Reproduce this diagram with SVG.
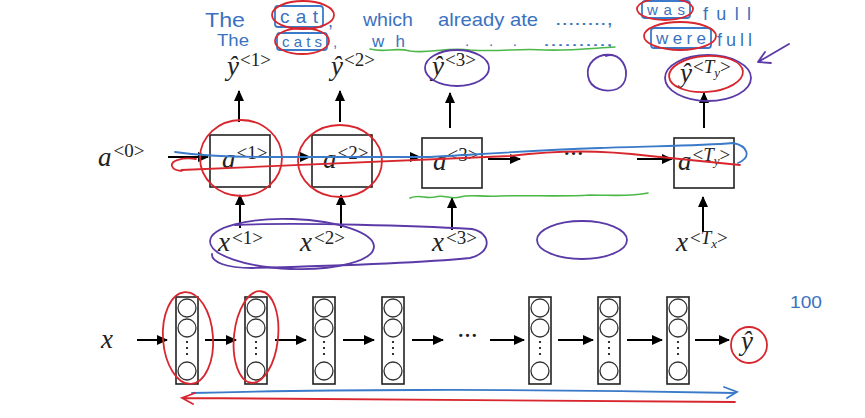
<svg xmlns="http://www.w3.org/2000/svg" width="865" height="418" viewBox="0 0 865 418">
<defs>
<marker id="ah" markerWidth="11" markerHeight="10" refX="10" refY="5" orient="auto" markerUnits="userSpaceOnUse"><path d="M0,0 L11,5 L0,10 z" fill="#000"/></marker>
<style>
.m{font-family:"Liberation Serif",serif;font-style:italic;font-size:27px;fill:#222}
.s{font-family:"Liberation Serif",serif;font-style:normal;font-size:19px}
.i{font-style:italic}
.box{fill:#fff;stroke:#222;stroke-width:1.6}
.col{fill:#fff;stroke:#222;stroke-width:1.6}
.cir{fill:#fff;stroke:#333;stroke-width:1.3}
.ar{stroke:#000;stroke-width:2;fill:none;marker-end:url(#ah)}
.hw{font-family:"Liberation Sans",sans-serif;fill:#3a72c0}
.red{fill:none;stroke:#d8262e;stroke-width:1.8;stroke-linecap:round}
.blue{fill:none;stroke:#3a7ac8;stroke-width:1.8;stroke-linecap:round}
.pur{fill:none;stroke:#5b3aa8;stroke-width:1.8;stroke-linecap:round}
.grn{fill:none;stroke:#4cb848;stroke-width:1.6;stroke-linecap:round}
</style>
</defs>
<rect width="865" height="418" fill="#fff"/>

<!-- handwritten sentences -->
<g id="sentences">
<text class="hw" x="205" y="27" font-size="20" textLength="40" lengthAdjust="spacingAndGlyphs">The</text>
<rect x="275" y="6" width="48" height="21" rx="3" class="blue"/>
<text class="hw" x="280" y="23" font-size="19" textLength="38" lengthAdjust="spacing">cat</text>
<text class="hw" x="328" y="27" font-size="18">,</text>
<text class="hw" x="363" y="26" font-size="19" textLength="50" lengthAdjust="spacingAndGlyphs">which</text>
<text class="hw" x="438" y="26" font-size="19" textLength="100" lengthAdjust="spacingAndGlyphs">already ate</text>
<text class="hw" x="555" y="25" font-size="18" textLength="58" lengthAdjust="spacingAndGlyphs">........,</text>
<rect x="642" y="1" width="48" height="17" rx="3" class="blue"/>
<text class="hw" x="647" y="15" font-size="15" textLength="38" lengthAdjust="spacing">was</text>
<text class="hw" x="703" y="20" font-size="18" textLength="48" lengthAdjust="spacing">full</text>

<text class="hw" x="217" y="46" font-size="16" textLength="32" lengthAdjust="spacingAndGlyphs">The</text>
<rect x="277" y="33" width="50" height="17" rx="3" class="blue"/>
<text class="hw" x="282" y="47" font-size="15" textLength="40" lengthAdjust="spacing">cats</text>
<text class="hw" x="333" y="47" font-size="15">,</text>
<text class="hw" x="372" y="47" font-size="17" textLength="33" lengthAdjust="spacing">wh</text>
<text class="hw" x="465" y="46" font-size="15" textLength="52" lengthAdjust="spacing">. . .</text>
<text class="hw" x="543" y="46" font-size="16" textLength="70" lengthAdjust="spacingAndGlyphs">.........,</text>
<rect x="651" y="28" width="60" height="20" rx="3" class="blue"/>
<text class="hw" x="656" y="44" font-size="17" textLength="50" lengthAdjust="spacing">were</text>
<text class="hw" x="717" y="46" font-size="18" textLength="35" lengthAdjust="spacing">full</text>

<ellipse cx="303" cy="15" rx="31" ry="14" class="red"/>
<ellipse cx="302" cy="41" rx="27" ry="13" class="red"/>
<ellipse cx="665" cy="9" rx="28" ry="11" class="red"/>
<ellipse cx="680" cy="36" rx="36" ry="14" class="red"/>
<path class="grn" d="M370,49 C385,53 395,47 410,51 C430,54 445,47 470,50 C500,52 520,48 545,50 C570,51 595,48 615,47"/>
</g>

<!-- connectors -->
<g id="connectors">
<line class="ar" x1="168" y1="157" x2="208" y2="157"/>
<line class="ar" x1="272" y1="157" x2="310" y2="157"/>
<line class="ar" x1="375" y1="157" x2="420" y2="157"/>
<line class="ar" x1="488" y1="159" x2="520" y2="159"/>
<line class="ar" x1="637" y1="159" x2="672" y2="159"/>
<line class="ar" x1="239" y1="122" x2="239" y2="91"/>
<line class="ar" x1="340" y1="122" x2="340" y2="91"/>
<line class="ar" x1="450" y1="128" x2="450" y2="93"/>
<line class="ar" x1="704" y1="128" x2="704" y2="93"/>
<line class="ar" x1="240" y1="228" x2="240" y2="195"/>
<line class="ar" x1="341" y1="228" x2="341" y2="195"/>
<line class="ar" x1="452" y1="230" x2="452" y2="198"/>
<line class="ar" x1="703" y1="232" x2="703" y2="197"/>
<line class="ar" x1="137" y1="340" x2="167" y2="340"/>
<line class="ar" x1="205" y1="340" x2="236" y2="340"/>
<line class="ar" x1="275" y1="340" x2="306" y2="340"/>
<line class="ar" x1="343" y1="340" x2="374" y2="340"/>
<line class="ar" x1="412" y1="340" x2="443" y2="340"/>
<line class="ar" x1="490" y1="340" x2="524" y2="340"/>
<line class="ar" x1="558" y1="340" x2="593" y2="340"/>
<line class="ar" x1="627" y1="340" x2="662" y2="340"/>
<line class="ar" x1="695" y1="340" x2="729" y2="340"/>
</g>

<!-- top row nodes -->
<g id="a0"><text class="m" x="98" y="166">a<tspan class="s" dx="2" dy="-9">&lt;0&gt;</tspan></text></g>
<g id="a1"><rect class="box" x="210" y="135" width="60" height="52"/><text class="m" x="222" y="168">a<tspan class="s" dx="1" dy="-9">&lt;1&gt;</tspan></text></g>
<g id="a2"><rect class="box" x="312" y="135" width="60" height="52"/><text class="m" x="323" y="168">a<tspan class="s" dx="1" dy="-9">&lt;2&gt;</tspan></text></g>
<g id="a3"><rect class="box" x="422" y="138" width="60" height="50"/><text class="m" x="433" y="170">a<tspan class="s" dx="1" dy="-9">&lt;3&gt;</tspan></text></g>
<g id="dots1"><text class="m" x="563" y="163" font-style="normal" font-size="22">···</text></g>
<g id="aTy"><rect class="box" x="674" y="138" width="60" height="50"/><text class="m" x="678" y="170">a<tspan class="s" dx="1" dy="-9">&lt;<tspan class="i">T</tspan><tspan class="i" font-size="13" dy="4">y</tspan><tspan dy="-4">&gt;</tspan></tspan></text></g>

<g id="y1"><text class="m" x="227" y="75">ŷ<tspan class="s" dx="1" dy="-9">&lt;1&gt;</tspan></text></g>
<g id="y2"><text class="m" x="331" y="75">ŷ<tspan class="s" dx="1" dy="-9">&lt;2&gt;</tspan></text></g>
<g id="y3"><text class="m" x="432" y="75">ŷ<tspan class="s" dx="1" dy="-9">&lt;3&gt;</tspan></text></g>
<g id="yTy"><text class="m" x="680" y="82">ŷ<tspan class="s" dx="1" dy="-9">&lt;<tspan class="i">T</tspan><tspan class="i" font-size="13" dy="4">y</tspan><tspan dy="-4">&gt;</tspan></tspan></text></g>

<g id="x1"><text class="m" x="218" y="251">x<tspan class="s" dx="2" dy="-7">&lt;1&gt;</tspan></text></g>
<g id="x2"><text class="m" x="300" y="251">x<tspan class="s" dx="2" dy="-7">&lt;2&gt;</tspan></text></g>
<g id="x3"><text class="m" x="432" y="251">x<tspan class="s" dx="2" dy="-7">&lt;3&gt;</tspan></text></g>
<g id="xTx"><text class="m" x="676" y="251">x<tspan class="s" dx="2" dy="-7">&lt;<tspan class="i">T</tspan><tspan class="i" font-size="13" dy="4">x</tspan><tspan dy="-4">&gt;</tspan></tspan></text></g>

<!-- bottom row nodes -->
<g id="xin"><text class="m" x="101" y="348">x</text></g>
<g id="c1"><rect class="col" x="176" y="297" width="22" height="87"/><circle class="cir" cx="187" cy="308" r="9"/><circle class="cir" cx="187" cy="328" r="9"/><circle class="cir" cx="187" cy="371" r="9"/><circle cx="187" cy="342" r="1.1"/><circle cx="187" cy="348" r="1.1"/><circle cx="187" cy="354" r="1.1"/></g>
<g id="c2"><rect class="col" x="245" y="297" width="22" height="87"/><circle class="cir" cx="256" cy="308" r="9"/><circle class="cir" cx="256" cy="328" r="9"/><circle class="cir" cx="256" cy="371" r="9"/><circle cx="256" cy="342" r="1.1"/><circle cx="256" cy="348" r="1.1"/><circle cx="256" cy="354" r="1.1"/></g>
<g id="c3"><rect class="col" x="313" y="297" width="22" height="87"/><circle class="cir" cx="324" cy="308" r="9"/><circle class="cir" cx="324" cy="328" r="9"/><circle class="cir" cx="324" cy="371" r="9"/><circle cx="324" cy="342" r="1.1"/><circle cx="324" cy="348" r="1.1"/><circle cx="324" cy="354" r="1.1"/></g>
<g id="c4"><rect class="col" x="382" y="297" width="22" height="87"/><circle class="cir" cx="393" cy="308" r="9"/><circle class="cir" cx="393" cy="328" r="9"/><circle class="cir" cx="393" cy="371" r="9"/><circle cx="393" cy="342" r="1.1"/><circle cx="393" cy="348" r="1.1"/><circle cx="393" cy="354" r="1.1"/></g>
<g id="dots2"><text class="m" x="457" y="345" font-style="normal" font-size="22">···</text></g>
<g id="c5"><rect class="col" x="529" y="297" width="22" height="87"/><circle class="cir" cx="540" cy="308" r="9"/><circle class="cir" cx="540" cy="328" r="9"/><circle class="cir" cx="540" cy="371" r="9"/><circle cx="540" cy="342" r="1.1"/><circle cx="540" cy="348" r="1.1"/><circle cx="540" cy="354" r="1.1"/></g>
<g id="c6"><rect class="col" x="598" y="297" width="22" height="87"/><circle class="cir" cx="609" cy="308" r="9"/><circle class="cir" cx="609" cy="328" r="9"/><circle class="cir" cx="609" cy="371" r="9"/><circle cx="609" cy="342" r="1.1"/><circle cx="609" cy="348" r="1.1"/><circle cx="609" cy="354" r="1.1"/></g>
<g id="c7"><rect class="col" x="667" y="297" width="22" height="87"/><circle class="cir" cx="678" cy="308" r="9"/><circle class="cir" cx="678" cy="328" r="9"/><circle class="cir" cx="678" cy="371" r="9"/><circle cx="678" cy="342" r="1.1"/><circle cx="678" cy="348" r="1.1"/><circle cx="678" cy="354" r="1.1"/></g>
<g id="yhat"><text class="m" x="741" y="350">ŷ</text></g>

<!-- annotations -->
<g id="annotations">
<ellipse cx="241" cy="158" rx="41" ry="38" class="red"/>
<ellipse cx="340" cy="161" rx="42" ry="36" class="red"/>
<ellipse cx="457" cy="68" rx="32" ry="18" class="pur"/>
<path class="pur" d="M612,55 C596,53 586,64 588,76 C590,89 605,93 617,89 C628,84 629,68 620,59 C616,55 610,54 606,56"/>
<ellipse cx="708" cy="78" rx="43" ry="23" class="pur"/>
<ellipse cx="706" cy="74" rx="37" ry="18" class="red" transform="rotate(-4 706 74)"/>
<path class="pur" d="M789,44 L758,62 M758,62 L771,63 M758,62 L765,52"/>
<path class="red" d="M196,159 C182,157 170,161 172,166 C174,172 186,171 181,170 L510,156 C560,150 600,150 650,156 L740,165"/>
<path class="blue" d="M175,152 C195,155 230,157 265,157 L430,157 C470,155 520,151 600,148 C650,146 700,146 733,143 C748,146 752,157 738,163"/>
<path class="grn" d="M410,198 C420,194 425,199 435,197 C445,194 450,200 460,197 C470,194 480,197 500,196 C530,195 560,197 590,195 C610,195 630,197 648,193"/>
<ellipse cx="292" cy="244" rx="82" ry="25" class="pur" transform="rotate(2 292 244)"/>
<path class="pur" d="M235,225 C300,222 420,226 472,229 C492,233 492,253 470,258 C420,263 330,266 252,268 C226,268 211,262 212,254"/>
<ellipse cx="582" cy="240" rx="45" ry="19" class="pur"/>
<ellipse cx="188" cy="338" rx="25" ry="46" class="red" transform="rotate(-4 188 338)"/>
<ellipse cx="256" cy="337" rx="22" ry="46" class="red" transform="rotate(6 256 337)"/>
<circle cx="749" cy="345" r="18" class="red"/>
<path class="blue" d="M192,393 C300,390 500,388 735,393 M724,387 L737,392 L727,398"/>
<path class="red" d="M185,398 C300,399 500,401 735,402 M195,393 L182,398 L193,404"/>
<text class="hw" x="790" y="308" font-size="16" textLength="32" lengthAdjust="spacingAndGlyphs">100</text>
</g>
</svg>
